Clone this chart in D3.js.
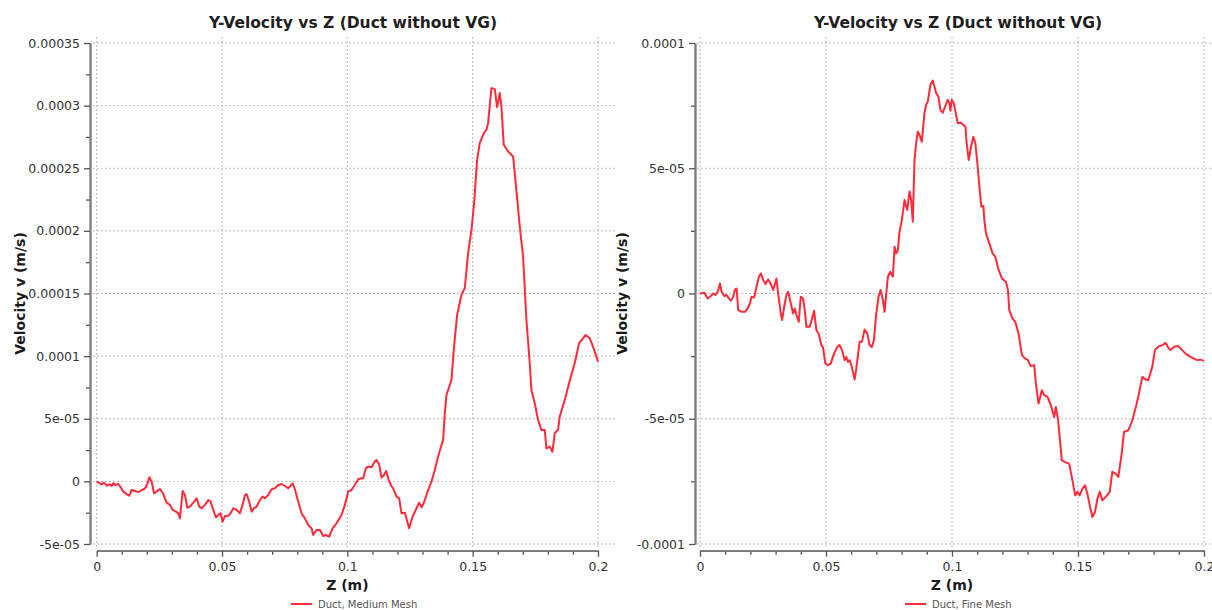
<!DOCTYPE html>
<html>
<head>
<meta charset="utf-8">
<script src="https://cdn.jsdelivr.net/npm/d3@7"></script>
<style>
  html, body { margin: 0; padding: 0; background: #fff; }
  svg { display: block; font-family: "DejaVu Sans", Verdana, sans-serif; }
</style>
</head>
<body>
<svg id="chart" width="1212" height="610"></svg>
<script>
// ---- data -------------------------------------------------------------
const chartTitle = "Y-Velocity vs Z (Duct without VG)";
const xTitle = "Z (m)";
const yTitle = "Velocity v (m/s)";

const xTicks = [0, 0.05, 0.1, 0.15, 0.2];
const xTickLabels = ["0", "0.05", "0.1", "0.15", "0.2"];

const mediumYTicks = [-5e-5, 0, 5e-5, 1e-4, 1.5e-4, 2e-4, 2.5e-4, 3e-4, 3.5e-4];
const mediumYTickLabels = ["-5e-05", "0", "5e-05", "0.0001", "0.00015", "0.0002", "0.00025", "0.0003", "0.00035"];

const fineYTicks = [-1e-4, -5e-5, 0, 5e-5, 1e-4];
const fineYTickLabels = ["-0.0001", "-5e-05", "0", "5e-05", "0.0001"];

const seriesNames = ["Duct, Medium Mesh", "Duct, Fine Mesh"];

// velocity values below are in units of 1e-5 m/s; z in metres
const V_UNIT = 1e-5;

const mediumMesh = [
  [0, 0], [0.00065, -0.10], [0.00198, -0.23], [0.00291, -0.10], [0.00397, -0.34],
  [0.0053, -0.23], [0.00597, -0.37], [0.00663, -0.15], [0.0073, -0.29], [0.00863, -0.21],
  [0.00956, -0.47], [0.01062, -0.82], [0.01195, -1.01], [0.01301, -1.14], [0.01394, -0.69],
  [0.01527, -0.77], [0.0166, -0.85], [0.01793, -0.69], [0.01926, -0.55], [0.02019, -0.21],
  [0.02099, 0.33], [0.02192, -0.02], [0.02285, -0.95], [0.02391, -0.82], [0.02524, -0.61],
  [0.02657, -1.01], [0.0279, -1.70], [0.02923, -1.88], [0.03029, -2.28], [0.03162, -2.42],
  [0.03255, -2.55], [0.03321, -2.95], [0.03428, -0.77], [0.03521, -1.09], [0.03614, -2.10],
  [0.0372, -2.02], [0.03853, -1.70], [0.03986, -1.35], [0.04092, -2.02], [0.04185, -2.15],
  [0.04318, -1.88], [0.04451, -1.49], [0.04544, -1.62], [0.0465, -2.28], [0.04757, -2.87],
  [0.0485, -2.68], [0.04943, -2.55], [0.05023, -3.22], [0.05116, -2.76], [0.05248, -2.74],
  [0.05342, -2.55], [0.05448, -2.15], [0.05581, -2.28], [0.05714, -2.55], [0.0582, -1.88],
  [0.05913, -1.09], [0.0598, -1.01], [0.06086, -1.62], [0.06179, -2.42], [0.06272, -2.15],
  [0.06378, -2.02], [0.06511, -1.49], [0.06618, -1.22], [0.06711, -1.35], [0.06843, -1.09],
  [0.06976, -0.63], [0.07109, -0.55], [0.07242, -0.29], [0.07375, -0.21], [0.07508, -0.37],
  [0.07641, -0.55], [0.07707, -0.42], [0.07814, -0.15], [0.07907, -0.63], [0.0804, -1.62],
  [0.08173, -2.55], [0.08305, -2.95], [0.08438, -3.48], [0.08571, -3.75], [0.08638, -4.28],
  [0.08771, -3.88], [0.08903, -3.88], [0.09036, -4.36], [0.09143, -4.28], [0.09276, -4.41],
  [0.09409, -3.75], [0.09568, -3.35], [0.09768, -2.68], [0.099, -1.88], [0.10033, -0.82],
  [0.10166, -0.69], [0.10299, -0.29], [0.10432, 0.17], [0.10565, 0.25], [0.10631, 0.25],
  [0.10738, 1.04], [0.10831, 1.18], [0.10964, 1.12], [0.11096, 1.58], [0.11163, 1.71],
  [0.11269, 1.35], [0.11362, 0.30], [0.1144, 0.45], [0.1155, 0.82], [0.1165, 0.10],
  [0.1175, -0.35], [0.11827, -0.55], [0.1196, -1.22], [0.12067, -1.35], [0.1216, -2.55],
  [0.12293, -2.50], [0.12465, -3.75], [0.12598, -2.82], [0.12758, -2.15], [0.12864, -1.70],
  [0.1297, -2.07], [0.1309, -1.49], [0.13223, -0.69], [0.13356, -0.02], [0.13489, 0.91],
  [0.13622, 1.98], [0.13755, 2.91], [0.13821, 3.31], [0.13888, 5.44], [0.13954, 6.90],
  [0.14154, 8.10], [0.14246, 10.50], [0.14379, 13.29], [0.14552, 14.89], [0.14685, 15.42],
  [0.14818, 18.22], [0.14951, 20.08], [0.15057, 22.21], [0.15177, 25.67], [0.15283, 27.00],
  [0.15443, 27.80], [0.15549, 28.07], [0.15615, 28.60], [0.15748, 31.40], [0.15881, 31.32],
  [0.15974, 29.88], [0.16081, 31.00], [0.16147, 29.93], [0.1624, 26.87], [0.16413, 26.34],
  [0.16612, 25.94], [0.16679, 24.61], [0.16878, 20.35], [0.17011, 17.95], [0.17144, 12.89],
  [0.17277, 9.43], [0.17343, 7.30], [0.17476, 6.24], [0.17609, 4.90], [0.17742, 4.11],
  [0.17875, 4.11], [0.17941, 2.64], [0.18074, 2.77], [0.18181, 2.37], [0.18274, 3.84],
  [0.18406, 4.11], [0.18473, 5.17], [0.18672, 6.50], [0.18898, 8.23], [0.19071, 9.43],
  [0.19244, 11.03], [0.19377, 11.35], [0.1951, 11.69], [0.19669, 11.43], [0.19802, 10.76],
  [0.2, 9.56]
];

const fineMesh = [
  [0, 0.00], [0.00171, 0.03], [0.00304, -0.20], [0.00396, -0.13], [0.00528, 0.00],
  [0.0062, -0.06], [0.00726, 0.14], [0.00792, 0.40], [0.00858, 0.07], [0.00963, -0.10],
  [0.01056, -0.06], [0.01122, -0.16], [0.01227, -0.29], [0.0132, -0.13], [0.01386, 0.16],
  [0.01452, 0.20], [0.01518, -0.66], [0.01649, -0.73], [0.01781, -0.73], [0.01887, -0.60],
  [0.01979, -0.40], [0.02045, -0.13], [0.02151, -0.16], [0.02243, 0.27], [0.02336, 0.67],
  [0.02415, 0.80], [0.02507, 0.54], [0.026, 0.38], [0.02705, 0.56], [0.02811, 0.38],
  [0.02903, 0.14], [0.02996, 0.47], [0.03035, 0.60], [0.03101, 0.00], [0.03207, -0.80],
  [0.03259, -1.06], [0.03339, -0.53], [0.03431, -0.06], [0.03497, 0.07], [0.03603, -0.40],
  [0.03695, -0.80], [0.03761, -0.60], [0.03827, -0.86], [0.03919, -1.13], [0.03998, -0.13],
  [0.04091, -0.20], [0.04157, -0.66], [0.04223, -1.33], [0.04355, -1.33], [0.04447, -1.00],
  [0.04526, -0.69], [0.04619, -1.46], [0.04711, -1.62], [0.04817, -2.06], [0.04882, -2.16],
  [0.04975, -2.80], [0.0508, -2.86], [0.05186, -2.80], [0.05318, -2.40], [0.0545, -2.13],
  [0.05542, -2.06], [0.05635, -2.26], [0.0574, -2.66], [0.05806, -2.53], [0.05872, -2.73],
  [0.05938, -2.66], [0.06004, -2.86], [0.0607, -3.13], [0.06136, -3.43], [0.06202, -2.99],
  [0.06268, -2.46], [0.06334, -1.93], [0.06426, -1.93], [0.06532, -1.44], [0.06638, -1.60],
  [0.0673, -2.06], [0.06822, -2.13], [0.06901, -1.86], [0.06994, -0.80], [0.07086, -0.13],
  [0.07165, 0.14], [0.07258, -0.26], [0.07324, -0.73], [0.0739, 0.00], [0.07456, 0.67],
  [0.07548, 0.87], [0.07654, 0.67], [0.0772, 1.87], [0.07786, 1.60], [0.07852, 1.73],
  [0.07918, 2.47], [0.0801, 2.93], [0.08116, 3.73], [0.08221, 3.33], [0.08314, 4.07],
  [0.0838, 3.73], [0.08445, 2.87], [0.08512, 5.33], [0.08578, 6.00], [0.08643, 6.46],
  [0.08709, 6.33], [0.08802, 6.06], [0.08907, 7.20], [0.08973, 7.53], [0.09039, 7.66],
  [0.09145, 8.33], [0.09237, 8.50], [0.09303, 8.26], [0.09369, 8.00], [0.09462, 7.86],
  [0.09541, 7.33], [0.09633, 7.22], [0.09726, 7.46], [0.09831, 7.73], [0.09897, 7.60],
  [0.09937, 7.30], [0.09989, 7.73], [0.10069, 7.60], [0.10161, 7.13], [0.10227, 6.80],
  [0.10359, 6.82], [0.10531, 6.66], [0.10583, 6.00], [0.10662, 5.33], [0.10755, 5.86],
  [0.10847, 6.26], [0.10926, 6.00], [0.11019, 5.07], [0.11111, 4.00], [0.11164, 3.47],
  [0.11243, 3.49], [0.11283, 2.93], [0.11349, 2.40], [0.11481, 2.00], [0.11612, 1.60],
  [0.11718, 1.47], [0.1185, 0.94], [0.11982, 0.60], [0.1214, 0.47], [0.1222, 0.14],
  [0.12272, -0.66], [0.12404, -1.00], [0.1251, -1.13], [0.12642, -1.60], [0.12774, -2.46],
  [0.12906, -2.60], [0.12998, -2.64], [0.1313, -2.90], [0.13262, -2.86], [0.13328, -3.59],
  [0.13434, -4.39], [0.13566, -3.86], [0.13658, -4.06], [0.1379, -4.13], [0.13922, -4.46],
  [0.14054, -4.93], [0.1412, -4.53], [0.14212, -5.06], [0.14358, -6.66], [0.14489, -6.73],
  [0.14648, -6.79], [0.1478, -7.46], [0.14885, -8.06], [0.14978, -7.92], [0.1507, -8.06],
  [0.15175, -7.79], [0.15281, -7.66], [0.15373, -7.99], [0.15466, -8.46], [0.15571, -8.92],
  [0.15677, -8.72], [0.15769, -8.19], [0.15862, -7.92], [0.15967, -8.26], [0.16099, -8.12],
  [0.16258, -7.92], [0.16363, -7.12], [0.16495, -7.19], [0.16601, -7.32], [0.16733, -6.39],
  [0.16825, -5.53], [0.16997, -5.46], [0.17155, -5.06], [0.17313, -4.46], [0.17419, -3.99],
  [0.17551, -3.33], [0.17683, -3.43], [0.17788, -3.46], [0.17947, -2.93], [0.18052, -2.26],
  [0.18211, -2.10], [0.18369, -2.06], [0.18475, -1.97], [0.1858, -2.16], [0.18673, -2.26],
  [0.18804, -2.13], [0.18976, -2.10], [0.19134, -2.26], [0.19293, -2.42], [0.19464, -2.53],
  [0.19596, -2.60], [0.19728, -2.66], [0.1986, -2.64], [0.2, -2.69]
];

// ---- layout -----------------------------------------------------------
const panels = [
  {
    data: mediumMesh, name: seriesNames[0],
    yDomain: [-5e-5, 3.5e-4], yTicks: mediumYTicks, yLabels: mediumYTickLabels,
    xRange: [96.7, 598], yAxisX: 90, gridX: [93, 615],
    titleX: 353, yTitleX: 20, legendX: 291
  },
  {
    data: fineMesh, name: seriesNames[1],
    yDomain: [-1e-4, 1e-4], yTicks: fineYTicks, yLabels: fineYTickLabels,
    xRange: [700, 1204], yAxisX: 695, gridX: [697, 1212],
    titleX: 958, yTitleX: 622, legendX: 905
  }
];

const yRange = [544, 43];
const xAxisY = 550.7;
const gridYExtent = [37, 547];
const lineColor = "#ff2a3a";
const axisColor = "#7a7a7a";
const gridColor = "#bdbdbd";
const tickTextColor = "#333";

const svg = d3.select("#chart");

panels.forEach(p => {
  const x = d3.scaleLinear().domain([0, 0.2]).range(p.xRange);
  const y = d3.scaleLinear().domain(p.yDomain).range(yRange);
  const g = svg.append("g");

  // grid
  const grid = g.append("g").attr("class", "grid")
    .attr("stroke", gridColor).attr("stroke-width", 1).attr("stroke-dasharray", "2,2");
  grid.selectAll("line.h").data(p.yTicks).join("line").attr("class", "h")
    .attr("x1", p.gridX[0]).attr("x2", p.gridX[1])
    .attr("y1", d => y(d)).attr("y2", d => y(d));
  grid.selectAll("line.v").data(xTicks).join("line").attr("class", "v")
    .attr("x1", d => x(d)).attr("x2", d => x(d))
    .attr("y1", gridYExtent[0]).attr("y2", gridYExtent[1]);

  // minor ticks
  const yStep = p.yTicks[1] - p.yTicks[0];
  const yMinor = p.yTicks.slice(0, -1).map(d => d + yStep / 2);
  const xMinor = d3.range(0, 21).map(i => i / 100).filter(v => Math.round(v * 100) % 5 !== 0);

  const yMinorAxis = d3.axisLeft(y).tickValues(yMinor).tickFormat("").tickSize(4).tickSizeOuter(0);
  const xMinorAxis = d3.axisBottom(x).tickValues(xMinor).tickFormat("").tickSize(4).tickSizeOuter(0);

  g.append("g").attr("transform", `translate(${p.yAxisX},0)`).call(yMinorAxis);
  g.append("g").attr("transform", `translate(0,${xAxisY})`).call(xMinorAxis);

  // major axes
  const yAxis = d3.axisLeft(y).tickValues(p.yTicks)
    .tickFormat((d, i) => p.yLabels[i]).tickSize(6).tickSizeOuter(0).tickPadding(4);
  const xAxis = d3.axisBottom(x).tickValues(xTicks)
    .tickFormat((d, i) => xTickLabels[i]).tickSize(6).tickSizeOuter(0).tickPadding(5);

  g.append("g").attr("transform", `translate(${p.yAxisX},0)`).call(yAxis);
  g.append("g").attr("transform", `translate(0,${xAxisY})`).call(xAxis);

  g.selectAll(".domain").attr("stroke", axisColor).attr("stroke-width", 1.8);
  g.selectAll(".tick line").attr("stroke", "#555").attr("stroke-width", 1.3);
  g.selectAll(".tick text")
    .attr("fill", tickTextColor)
    .style("font-family", '"DejaVu Sans", Verdana, sans-serif')
    .style("font-size", "12.5px");

  // series line
  const line = d3.line().x(d => x(d[0])).y(d => y(d[1] * V_UNIT));
  g.append("path").datum(p.data)
    .attr("fill", "none").attr("stroke", lineColor)
    .attr("stroke-width", 2).attr("stroke-linejoin", "round")
    .attr("d", line);

  // titles
  g.append("text").attr("x", p.titleX).attr("y", 28)
    .attr("text-anchor", "middle").attr("font-weight", "bold")
    .attr("font-size", "15.5px").attr("fill", "#1e1e1e").text(chartTitle);

  g.append("text").attr("x", (p.xRange[0] + p.xRange[1]) / 2).attr("y", 590)
    .attr("text-anchor", "middle").attr("font-weight", "bold")
    .attr("font-size", "14px").attr("fill", "#1a1a1a").text(xTitle);

  g.append("text")
    .attr("transform", `translate(${p.yTitleX},${(yRange[0] + yRange[1]) / 2}) rotate(-90)`)
    .attr("text-anchor", "middle").attr("dy", "0.35em").attr("font-weight", "bold")
    .attr("font-size", "14px").attr("fill", "#1a1a1a").text(yTitle);

  // legend
  const lg = g.append("g").attr("transform", `translate(${p.legendX},604)`);
  lg.append("line").attr("x1", 0).attr("x2", 21).attr("y1", 0).attr("y2", 0)
    .attr("stroke", lineColor).attr("stroke-width", 2);
  lg.append("text").attr("x", 27).attr("y", 0).attr("dy", "0.35em")
    .attr("font-size", "10px").attr("fill", "#555").text(p.name);
});
</script>
</body>
</html>
